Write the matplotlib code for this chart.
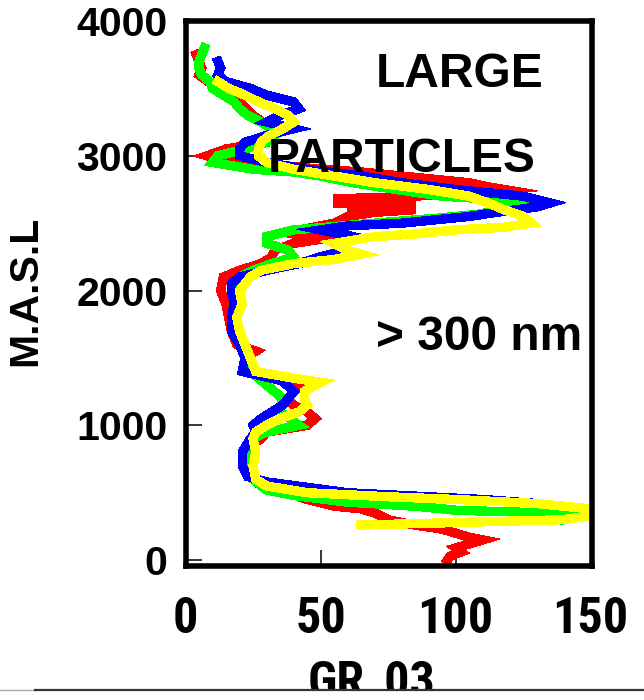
import matplotlib
matplotlib.use("Agg")
import matplotlib.pyplot as plt
from matplotlib import font_manager
from matplotlib.lines import Line2D
from matplotlib.patches import Rectangle

# Vertical profiles of GR_03 (> 300 nm particles) against altitude, four soundings
red_alt = [3750, 3700, 3650, 3600, 3500, 3400, 3300, 3200, 3100, 3050, 3000, 2960, 2940,
           2900, 2880, 2850, 2820, 2800, 2770, 2750, 2720, 2700, 2680, 2665, 2650, 2635,
           2620, 2600, 2580, 2550, 2500, 2460, 2420, 2380, 2350, 2300, 2250, 2200, 2150,
           2100, 2000, 1900, 1800, 1700, 1600, 1550, 1500, 1400, 1350, 1320, 1280, 1250,
           1200, 1150, 1100, 1050, 1000, 950, 900, 850, 800, 700, 650, 600, 550, 500, 450,
           400, 380, 350, 300, 260, 230, 200, 170, 150, 120, 90, 60, 30, 0]
red_val = [4, 5, 6, 5, 12, 20, 25, 32, 30, 15, 8, 15, 30,
           50, 65, 80, 95, 105, 112, 118, 100, 85, 55, 85, 55, 82,
           60, 85, 70, 60, 55, 45, 40, 50, 40, 33, 32, 28, 20,
           14, 13, 15, 16, 17, 19, 26, 22, 22, 30, 45, 42, 40,
           38, 40, 45, 48, 45, 30, 28, 23, 22, 22, 24, 25, 28, 38, 45,
           55, 65, 70, 75, 85, 95, 100, 105, 110, 105, 100, 102, 98, 97]

green_alt = [3800, 3750, 3700, 3650, 3600, 3550, 3500, 3450, 3400, 3350, 3300, 3250, 3200,
             3150, 3100, 3050, 3000, 2950, 2900, 2880, 2850, 2800, 2750, 2700, 2670, 2640,
             2600, 2570, 2540, 2500, 2450, 2400, 2350, 2300, 2250, 2200, 2150, 2100, 2000,
             1900, 1800, 1700, 1600, 1500, 1400, 1300, 1200, 1100, 1000, 950, 900, 800, 700,
             600, 520, 480, 430, 400, 370, 340, 300]
green_val = [7, 6, 5, 5, 6, 9, 10, 14, 18, 20, 23, 28, 32,
             33, 30, 22, 12, 10, 25, 40, 50, 62, 78, 95, 120, 125,
             115, 110, 95, 70, 40, 30, 30, 38, 40, 32, 25, 20, 18,
             19, 18, 19, 21, 23, 24, 30, 36, 35, 42, 30, 25, 23, 24,
             25, 30, 40, 60, 85, 100, 150, 140]

blue_alt = [3700, 3650, 3600, 3550, 3500, 3450, 3400, 3350, 3300, 3250, 3200, 3150, 3100,
            3050, 3000, 2950, 2900, 2850, 2800, 2750, 2700, 2650, 2620, 2580, 2550, 2500,
            2480, 2450, 2400, 2350, 2300, 2250, 2200, 2150, 2100, 2050, 2000, 1900, 1800,
            1700, 1600, 1500, 1400, 1330, 1250, 1150, 1100, 1050, 1000, 950, 900, 800, 700,
            620, 580, 540, 500, 470, 450, 420, 380, 350, 330]
blue_val = [12, 13, 12, 15, 24, 30, 40, 42, 35, 30, 40, 30, 22,
            20, 20, 30, 45, 65, 80, 100, 125, 135, 130, 115, 105, 80,
            60, 50, 62, 58, 60, 50, 42, 30, 20, 17, 17, 18, 17,
            17, 20, 22, 21, 36, 40, 36, 32, 28, 25, 26, 24, 21, 21,
            23, 30, 45, 60, 90, 110, 130, 150, 150, 150]

yellow_alt = [3550, 3500, 3450, 3400, 3350, 3300, 3250, 3200, 3150, 3100, 3050, 3000, 2950,
              2900, 2850, 2800, 2750, 2700, 2650, 2600, 2550, 2500, 2470, 2450, 2420, 2400,
              2350, 2300, 2270, 2230, 2200, 2150, 2100, 2000, 1900, 1800, 1700, 1600, 1500,
              1400, 1350, 1320, 1300, 1250, 1200, 1150, 1100, 1050, 1000, 950, 900, 800, 700,
              600, 550, 500, 470, 450, 420, 380, 330, 300, 260]
yellow_val = [12, 16, 22, 27, 33, 38, 40, 36, 31, 28, 27, 27, 30,
              40, 55, 70, 90, 105, 112, 118, 125, 128, 118, 100, 85, 70,
              55, 60, 65, 55, 40, 28, 24, 20, 21, 19, 20, 22, 24,
              26, 40, 50, 48, 44, 44, 45, 42, 35, 30, 26, 25, 26, 25,
              26, 30, 45, 75, 100, 130, 150, 150, 140, 65]

series = [
    (red_val, red_alt, "#ff0000"),
    (green_val, green_alt, "#00ff00"),
    (blue_val, blue_alt, "#0000ff"),
    (yellow_val, yellow_alt, "#ffff00"),
]

x_ticks = [0, 50, 100, 150]
y_ticks = [0, 1000, 2000, 3000, 4000]

# narrow bold face for the x-axis texts, if one is available
available = {f.name for f in font_manager.fontManager.ttflist}
narrow = None
for name in ["Liberation Sans Narrow", "Roboto Condensed", "Open Sans Condensed",
             "DejaVu Sans Condensed"]:
    if name in available:
        narrow = name
        break
if narrow is None:
    x_family, x_size = "Liberation Sans", 30.5
else:
    x_family, x_size = narrow, 36

W, H = 644, 700
fig = plt.figure(figsize=(W / 100, H / 100), dpi=100)
ax = fig.add_axes([185.5 / W, 1 - 565.5 / H, (592 - 185.5) / W, (565.5 - 21) / H])

for vals, alts, col in series:
    ax.plot(vals, alts, color=col, lw=6, antialiased=False, solid_joinstyle="miter")

ax.set_xlim(0, 150.5)
ax.set_ylim(-40, 4000)
ax.set_xticks(x_ticks)
ax.set_yticks(y_ticks)

for sp in ax.spines.values():
    sp.set_linewidth(4)
    sp.set_color("black")

ax.tick_params(axis="both", direction="in", length=11.5, width=1.1, color="black")
ax.tick_params(axis="y", pad=13)
ax.tick_params(axis="x", pad=22)

bold = dict(fontweight="bold", color="black")
for lab in ax.get_yticklabels():
    lab.set_fontfamily("Liberation Sans")
    lab.set_fontsize(29.5)
    lab.set_fontweight("bold")
for lab in ax.get_xticklabels():
    lab.set_fontfamily(x_family)
    lab.set_fontsize(x_size)
    lab.set_fontweight("bold")

fig.text(25 / W, 1 - 291 / H, "M.A.S.L", rotation=90, ha="center", va="center",
         family="Liberation Sans", fontsize=29.5, **bold)

fig.text(460 / W, 1 - 87 / H, "LARGE", ha="center", va="baseline",
         family="Liberation Sans", fontsize=34.5, zorder=5, **bold)
fig.text(401.5 / W, 1 - 172 / H, "PARTICLES", ha="center", va="baseline",
         family="Liberation Sans", fontsize=34.5, zorder=5, **bold)
fig.text(479 / W, 1 - 350 / H, "> 300 nm", ha="center", va="baseline",
         family="Liberation Sans", fontsize=34.5, zorder=5, **bold)

fig.text(372 / W, 1 - 697 / H, "GR_03", ha="center", va="baseline",
         family=x_family, fontsize=x_size, zorder=5, **bold)

# page rule along the bottom edge
fig.add_artist(Rectangle((0, 0), 1, 1 - 691 / H, transform=fig.transFigure,
                         facecolor="white", edgecolor="none", zorder=10))
fig.add_artist(Line2D([0, 35 / W], [1 - 690 / H] * 2, transform=fig.transFigure,
                      color="#aaaaaa", lw=1.0, zorder=11))
fig.add_artist(Line2D([35 / W, 1], [1 - 690 / H] * 2, transform=fig.transFigure,
                      color="#333333", lw=1.6, zorder=11))

fig.savefig("out.png", dpi=100, facecolor="white")
